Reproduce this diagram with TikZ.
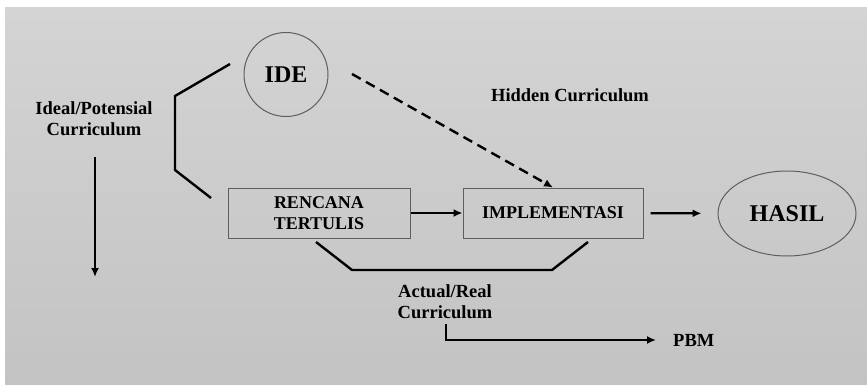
\documentclass[tikz,border=0pt]{standalone}
\usepackage{fontspec}
\setmainfont{Liberation Serif}
\usetikzlibrary{arrows.meta,shapes.geometric}
\definecolor{bgtop}{HTML}{D4D4D4}
\definecolor{bgbot}{HTML}{C3C3C3}
\definecolor{edge}{HTML}{5E5E5E}
\begin{document}
\begin{tikzpicture}[x=1pt,y=-1pt,
  lbl/.style={font=\bfseries\fontsize{18.5}{21}\selectfont,align=center,inner sep=0pt},
  boxlbl/.style={draw=edge,line width=1pt,font=\bfseries\fontsize{18}{20.5}\selectfont,align=center,inner sep=0pt},
  big/.style={draw=edge,line width=1pt,font=\bfseries\fontsize{24}{26}\selectfont,inner sep=0pt},
  ln/.style={line width=2.4pt,black},
  arr/.style={ln,-{Latex[length=9pt,width=8pt]}},
  darr/.style={arr,dash pattern=on 10pt off 6pt}]
\useasboundingbox (0,0) rectangle (867,385);
\fill[white] (0,0) rectangle (867,385);
\shade[top color=bgtop,bottom color=bgbot] (5,8) rectangle (867,385);
% nodes
\node[big,circle,minimum size=84pt] (ide) at (286,74.5) {IDE};
\node[boxlbl,rectangle,minimum width=182pt,minimum height=50pt] (ren) at (319,213) {RENCANA\\TERTULIS};
\node[boxlbl,rectangle,minimum width=180pt,minimum height=50pt] (imp) at (553,213) {IMPLEMENTASI};
\node[big,ellipse,minimum width=138pt,minimum height=85pt] (hasil) at (787,213.5) {HASIL};
\node[lbl] (ideal) at (94,119) {Ideal/Potensial\\Curriculum};
\node[lbl] (hidden) at (570,95) {Hidden Curriculum};
\node[lbl] (actual) at (445,302) {Actual/Real\\Curriculum};
\node[lbl,anchor=west] (pbm) at (673,340) {PBM};
% coordinates
\coordinate (b1) at (230,64);
\coordinate (b2) at (175,96);
\coordinate (b3) at (175,170);
\coordinate (b4) at (211,198);
\coordinate (c1) at (316,242);
\coordinate (c2) at (352,270);
\coordinate (c3) at (552,270);
\coordinate (c4) at (588,242);
\coordinate (d1) at (95,157);
\coordinate (d2) at (95,277);
\coordinate (p1) at (446,324);
\coordinate (ds) at (352,74);
% connectors
\draw[ln] (b1) -- (b2) -- (b3) -- (b4);
\draw[ln] (c1) -- (c2) -- (c3) -- (c4);
\draw[arr] (d1) -- (d2);
\draw[arr] (ren) -- (imp);
\draw[arr,shorten <=7pt,shorten >=16pt] (imp) -- (hasil);
\draw[darr] (ds) -- (imp.north);
\draw[arr,shorten >=17pt] (p1) |- (pbm.west);
\end{tikzpicture}
\end{document}
